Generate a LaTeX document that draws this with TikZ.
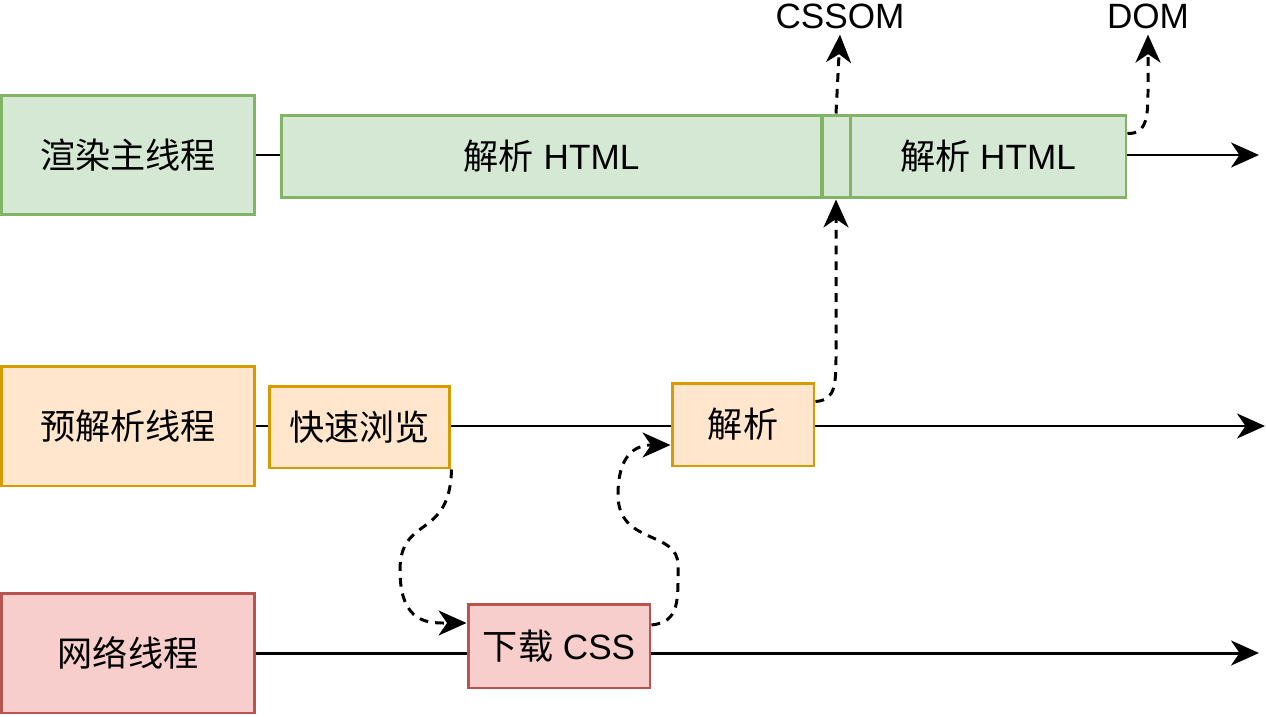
\documentclass[tikz,border=0pt]{standalone}
\usepackage{fontspec}
\setmainfont{Liberation Sans}
\newfontfamily\cjk{Noto Sans CJK SC}
\usetikzlibrary{arrows.meta}
\definecolor{grf}{HTML}{D5E8D4}\definecolor{grb}{HTML}{82B366}
\definecolor{orf}{HTML}{FFE6CC}\definecolor{orb}{HTML}{D79B00}
\definecolor{rdf}{HTML}{F8CECC}\definecolor{rdb}{HTML}{B85450}
\newcommand\fs{\fontsize{20}{24}\selectfont}
\tikzset{gr/.style = {rectangle, line width=1.7pt, inner sep=0pt, font=\fs, draw=grb, fill=grf},
           or/.style = {rectangle, line width=1.7pt, inner sep=0pt, font=\fs, draw=orb, fill=orf},
           rd/.style = {rectangle, line width=1.7pt, inner sep=0pt, font=\fs, draw=rdb, fill=rdf},
           th/.style = {minimum width=5.08cm, minimum height=2.4cm},
           ln/.style = {line width=1.7pt},
           da/.style = {line width=1.7pt, dash pattern=on 5pt off 4pt}}

\begin{document}
\begin{tikzpicture}[x=0.02cm, y=-0.02cm, >={Stealth[length=0.56cm, width=0.5cm, inset=0.17cm]}]
    \useasboundingbox (0,0) rectangle (1266,716);
    \node[gr, th] (rm) at (128,155) {\cjk 渲染主线程};
    \node[gr, minimum width=10.82cm, minimum height=1.66cm] (h1) at (551.5,156.5) {{\cjk 解析} HTML};
    \node[gr, minimum width=0.56cm, minimum height=1.66cm] (sm) at (836,156.5) {};
    \node[gr, minimum width=5.52cm, minimum height=1.66cm] (h2) at (988,156.5) {{\cjk 解析} HTML};
    \node[or, th] (pp) at (128,426) {\cjk 预解析线程};
    \node[or, minimum width=3.62cm, minimum height=1.64cm] (ks) at (359.5,427) {\cjk 快速浏览};
    \node[or, minimum width=2.84cm, minimum height=1.66cm] (jx) at (743,424.5) {\cjk 解析};
    \node[rd, th] (nw) at (128,653) {\cjk 网络线程};
    \node[rd, minimum width=3.64cm, minimum height=1.68cm] (xz) at (559,646) {{\cjk 下载} CSS};
    \node[font=\fs] (cs) at (840,16) {CSSOM};
    \node[font=\fs] (dm) at (1148,16) {DOM};
    \coordinate (e1) at (1259,155); \coordinate (e2) at (1265,426); \coordinate (e3) at (1259,653);
    \draw[ln] (rm.east) -- (h1.west |- rm.east);
    \draw[ln, ->] (h2.east |- rm.east) -- (e1);
    \draw[ln] (pp.east) -- (ks.west |- pp.east);
    \draw[ln] (ks.east |- pp.east) -- (jx.west |- pp.east);
    \draw[ln, ->] (jx.east |- pp.east) -- (e2);
    \draw[ln] (nw.east) -- (xz.west |- nw.east);
    \draw[ln, ->] (xz.east |- nw.east) -- (e3);
    \draw[da, ->] (ks.south east) .. controls (450,540) and (400,515) .. (400,570) .. controls (400,625) and (430,623) .. ([yshift=0.46cm]xz.west);
    \draw[da, ->] ([yshift=0.42cm]xz.east) .. controls (680,622) and (678,600) .. (678,565) .. controls (678,530) and (618,545) .. (618,495) .. controls (618,455) and (635,445) .. ([yshift=-0.41cm]jx.west);
    \draw[da, ->] ([yshift=-0.4cm]jx.north east) .. controls (836,400) and (836,385) .. (836,350) -- (sm.south);
    \draw[da, ->] (sm.north) -- (cs.south);
    \draw[da, ->] ([yshift=-0.4cm]h2.north east) .. controls (1148,134) and (1148,115) .. (1148,85) -- (dm.south);
\end{tikzpicture}
\end{document}
